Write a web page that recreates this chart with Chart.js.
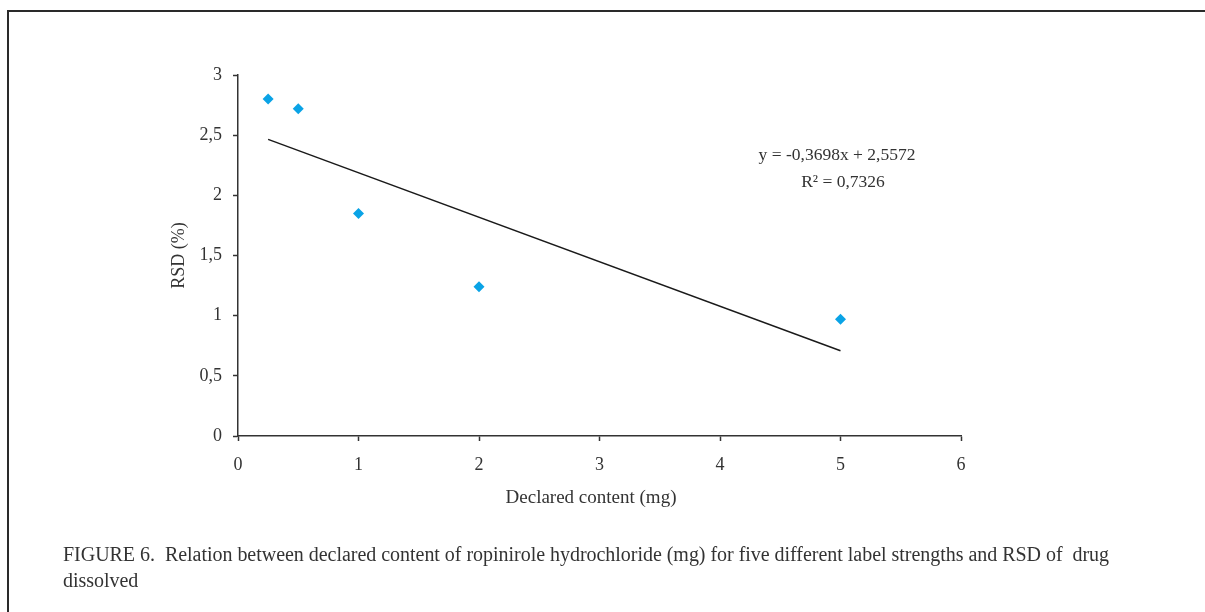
<!DOCTYPE html>
<html>
<head>
<meta charset="utf-8">
<script src="https://cdn.jsdelivr.net/npm/chart.js@4"></script>
<style>
  html, body { margin: 0; padding: 0; background: #fff; }
  #wrap { position: relative; width: 1205px; height: 612px; overflow: hidden; background: #fff; }
  #frameTop { position: absolute; left: 7px; top: 10px; width: 1198px; height: 0; border-top: 2px solid #2a2a2a; }
  #frameLeft { position: absolute; left: 7px; top: 10px; width: 0; height: 602px; border-left: 2px solid #2a2a2a; }
  canvas { position: absolute; left: 0; top: 0; }
  #caption { position: absolute; left: 63px; top: 541px; font-family: "Liberation Serif", serif; font-size: 20px; line-height: 26px; color: #333; white-space: nowrap; letter-spacing: -0.03px; }
</style>
</head>
<body>
<div id="wrap">
  <canvas id="c" width="1205" height="612"></canvas>
  <div id="frameTop"></div>
  <div id="frameLeft"></div>
  <div id="caption">FIGURE 6.&nbsp; Relation between declared content of ropinirole hydrochloride (mg) for five different label strengths and RSD of &nbsp;drug<br>dissolved</div>
</div>
<script>
// ---- data ----
const declaredContent = [0.25, 0.5, 1, 2, 5];
const rsdValues = [2.80, 2.72, 1.85, 1.24, 0.97];
const trendSlope = -0.3698;
const trendIntercept = 2.5572;
const trendRange = [0.25, 5];
const xTickValues = [0, 1, 2, 3, 4, 5, 6];
const yTickValues = [0, 0.5, 1, 1.5, 2, 2.5, 3];
const equationText = "y = -0,3698x + 2,5572";
const r2Text = "R\u00B2 = 0,7326";
const xTitle = "Declared content (mg)";
const yTitle = "RSD (%)";

const points = declaredContent.map((x, i) => ({ x: x, y: rsdValues[i] }));
const trendPoints = trendRange.map(x => ({ x: x, y: trendIntercept + trendSlope * x }));
const fmt = v => String(v).replace('.', ',');
const FONT = '"Liberation Serif", serif';
const TXT = '#333';

const annotationPlugin = {
  id: 'eqText',
  afterDraw(chart) {
    const ctx = chart.ctx;
    ctx.save();
    ctx.fillStyle = TXT;
    ctx.font = '17.5px ' + FONT;
    ctx.textAlign = 'center';
    ctx.textBaseline = 'alphabetic';
    ctx.fillText(equationText, 837, 160);
    ctx.fillText(r2Text, 843, 187);
    ctx.font = '19px ' + FONT;
    ctx.fillText(xTitle, 591, 503);
    ctx.restore();
  }
};

new Chart(document.getElementById('c'), {
  type: 'scatter',
  data: {
    datasets: [
      {
        label: 'RSD',
        data: points,
        pointStyle: 'rectRot',
        pointRadius: 5.5,
        pointHoverRadius: 5.5,
        backgroundColor: '#0AA3E6',
        borderColor: '#0AA3E6',
        borderWidth: 0,
        order: 1
      },
      {
        label: 'Trend',
        data: trendPoints,
        showLine: true,
        pointRadius: 0,
        borderColor: '#1a1a1a',
        borderWidth: 1.5,
        fill: false,
        order: 2
      }
    ]
  },
  options: {
    responsive: false,
    animation: false,
    events: [],
    layout: { padding: { left: 164, top: 75, right: 244, bottom: 100 } },
    plugins: { legend: { display: false }, tooltip: { enabled: false } },
    scales: {
      x: {
        type: 'linear', min: 0, max: 6,
        afterBuildTicks: s => { s.ticks = xTickValues.map(v => ({ value: v })); },
        afterFit: s => { s.height = 76; },
        ticks: { callback: v => fmt(v), color: TXT, font: { family: FONT, size: 18 }, padding: 13, maxRotation: 0 },
        grid: { drawOnChartArea: false, drawTicks: true, tickLength: 5, tickColor: '#333', tickWidth: 1.5 },
        border: { display: true, color: '#333', width: 1.5 },
        title: { display: false }
      },
      y: {
        type: 'linear', min: 0, max: 3,
        afterBuildTicks: s => { s.ticks = yTickValues.map(v => ({ value: v })); },
        afterFit: s => { s.width = 74; },
        ticks: { callback: v => fmt(v), color: TXT, font: { family: FONT, size: 18 }, padding: 11 },
        grid: { drawOnChartArea: false, drawTicks: true, tickLength: 5, tickColor: '#333', tickWidth: 1.5 },
        border: { display: true, color: '#333', width: 1.5 },
        title: { display: true, text: yTitle, color: TXT, font: { family: FONT, size: 18 }, padding: 4 }
      }
    }
  },
  plugins: [annotationPlugin]
});
</script>
</body>
</html>
